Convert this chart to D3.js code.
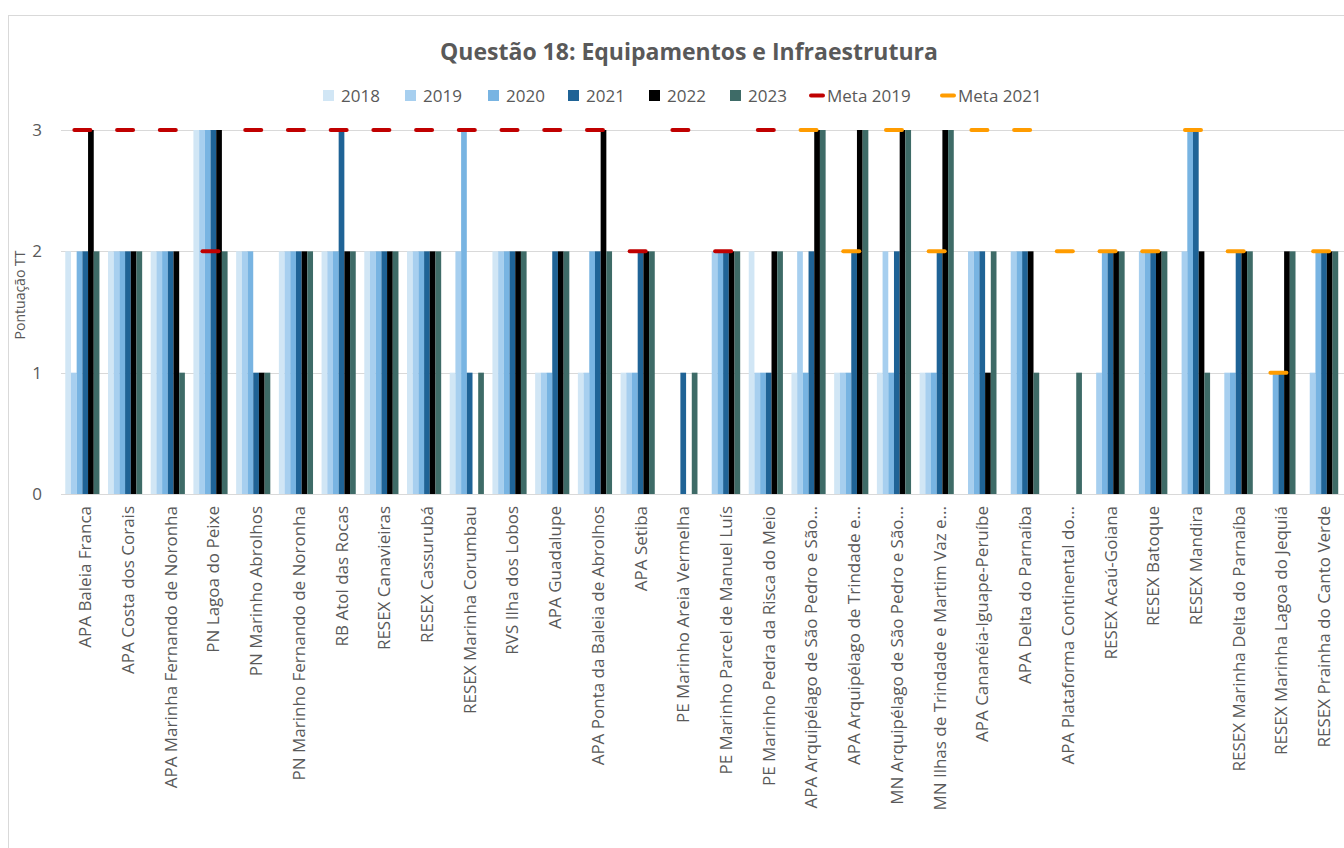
<!DOCTYPE html>
<html><head><meta charset="utf-8">
<script src="https://cdn.jsdelivr.net/npm/d3@7"></script>
<style>
html,body{margin:0;padding:0;background:#fff;}
svg{display:block;font-family:"Open Sans",sans-serif;}
</style></head>
<body>
<svg id="chart" width="1344" height="848"></svg>
<script>
const categories = ["APA Baleia Franca","APA Costa dos Corais","APA Marinha Fernando de Noronha","PN Lagoa do Peixe","PN Marinho Abrolhos","PN Marinho Fernando de Noronha","RB Atol das Rocas","RESEX Canavieiras","RESEX Cassurubá","RESEX Marinha Corumbau","RVS Ilha dos Lobos","APA Guadalupe","APA Ponta da Baleia de Abrolhos","APA Setiba","PE Marinho Areia Vermelha","PE Marinho Parcel de Manuel Luís","PE Marinho Pedra da Risca do Meio","APA Arquipélago de São Pedro e São...","APA Arquipélago de Trindade e...","MN Arquipélago de São Pedro e São...","MN Ilhas de Trindade e Martim Vaz e...","APA Cananéia-Iguape-Peruíbe","APA Delta do Parnaíba","APA Plataforma Continental do...","RESEX Acaú-Goiana","RESEX Batoque","RESEX Mandira","RESEX Marinha Delta do Parnaíba","RESEX Marinha Lagoa do Jequiá","RESEX Prainha do Canto Verde"];
const years = ["2018","2019","2020","2021","2022","2023"];
const v2018 = [2,2,2,3,2,2,2,2,2,1,2,1,1,1,0,0,2,1,1,1,1,0,0,0,0,0,0,0,0,0];
const v2019 = [1,2,2,3,2,2,2,2,2,2,2,1,1,1,0,2,1,2,1,2,1,2,2,0,1,2,2,1,0,1];
const v2020 = [2,2,2,3,2,2,2,2,2,3,2,1,2,1,0,2,1,1,1,1,1,2,2,0,2,2,3,1,1,2];
const v2021 = [2,2,2,3,1,2,3,2,2,1,2,2,2,2,1,2,1,2,2,2,2,2,2,0,2,2,3,2,1,2];
const v2022 = [3,2,2,3,1,2,2,2,2,0,2,2,3,2,0,2,2,3,3,3,3,1,2,0,2,2,2,2,2,2];
const v2023 = [2,2,1,2,1,2,2,2,2,1,2,2,2,2,1,2,2,3,3,3,3,2,1,1,2,2,1,2,2,2];
const meta2019 = [3,3,3,2,3,3,3,3,3,3,3,3,3,2,3,2,3,null,null,null,null,null,null,null,null,null,null,null,null,null];
const meta2021 = [null,null,null,null,null,null,null,null,null,null,null,null,null,null,null,null,null,3,2,3,2,3,3,2,2,2,3,2,1,2];
const yTicks = [0,1,2,3];
const title = "Questão 18: Equipamentos e Infraestrutura";
const yTitle = "Pontuação TT";

const seriesValues = [v2018,v2019,v2020,v2021,v2022,v2023];
const barColors = ["#d1e6f5","#a7cfef","#78b4e2","#1f6396","#000000","#3e6b67"];
const metaColors = ["#c00000","#ff9c00"];

const svg = d3.select("#chart");
const textColor = "#595959";

// chart frame
svg.append("rect").attr("x",8.5).attr("y",15.5).attr("width",1400).attr("height",900)
  .attr("fill","none").attr("stroke","#d9d9d9");

const x0 = d3.scaleBand().domain(categories).range([61,1342.5]).padding(0);
const bw = x0.bandwidth();
const x1 = d3.scaleBand().domain(years).range([bw*0.1, bw*0.9]).padding(0);
const y = d3.scaleLinear().domain([0,3]).range([494,130]);

// gridlines
svg.append("g").selectAll("line").data(yTicks).join("line")
  .attr("x1",61).attr("x2",1344)
  .attr("y1",d=>Math.round(y(d))+0.5).attr("y2",d=>Math.round(y(d))+0.5)
  .attr("stroke","#d9d9d9").attr("stroke-width",1);

// y axis tick labels
const yAxis = d3.axisLeft(y).tickValues(yTicks).tickFormat(d3.format("d")).tickSize(0).tickPadding(0);
const gy = svg.append("g").attr("transform","translate(42,0)").call(yAxis);
gy.select(".domain").remove();
gy.selectAll("text").attr("fill",textColor).style("font-size","17px").style("font-family","Open Sans");

// bars
const gBars = svg.append("g");
years.forEach((yr,si)=>{
  gBars.append("g").selectAll("rect").data(seriesValues[si]).join("rect")
    .attr("x",(d,i)=>x0(categories[i])+x1(yr))
    .attr("width",x1.bandwidth())
    .attr("y",d=>y(d))
    .attr("height",d=>y(0)-y(d))
    .attr("fill",barColors[si]);
});

// meta markers
[meta2019,meta2021].forEach((arr,mi)=>{
  svg.append("g").selectAll("line").data(arr.map((v,i)=>({v,i})).filter(d=>d.v!==null)).join("line")
    .attr("x1",d=>x0(categories[d.i])+bw/2-8)
    .attr("x2",d=>x0(categories[d.i])+bw/2+8)
    .attr("y1",d=>y(d.v)).attr("y2",d=>y(d.v))
    .attr("stroke",metaColors[mi]).attr("stroke-width",4).attr("stroke-linecap","round");
});

// x axis labels
const xAxis = d3.axisBottom(x0).tickSize(0).tickPadding(0);
const gx = svg.append("g").attr("transform","translate(0,494)").call(xAxis);
gx.select(".domain").remove();
gx.selectAll("text")
  .attr("fill",textColor).style("font-size","17px").style("font-family","Open Sans")
  .attr("text-anchor","end").attr("transform","rotate(-90)")
  .attr("x",-12).attr("y",3).attr("dy","0.35em");

// title
svg.append("text").attr("x",689).attr("y",60).attr("text-anchor","middle")
  .attr("fill",textColor).style("font-size","23px").style("font-weight","bold").text(title);

// y title
svg.append("text").attr("transform","translate(25,295) rotate(-90)").attr("text-anchor","middle")
  .attr("fill",textColor).style("font-size","14px").text(yTitle);

// legend
const legendX = [323,405,488,568,649,730];
const lg = svg.append("g");
years.forEach((yr,i)=>{
  lg.append("rect").attr("x",legendX[i]).attr("y",90).attr("width",11).attr("height",11).attr("fill",barColors[i]);
  lg.append("text").attr("x",legendX[i]+18).attr("y",101.5).attr("fill",textColor).style("font-size","17px").text(yr);
});
const metaLegend = [{x:810,label:"Meta 2019"},{x:941,label:"Meta 2021"}];
metaLegend.forEach((m,i)=>{
  lg.append("line").attr("x1",m.x+1).attr("x2",m.x+13).attr("y1",95.5).attr("y2",95.5)
    .attr("stroke",metaColors[i]).attr("stroke-width",4).attr("stroke-linecap","round");
  lg.append("text").attr("x",m.x+17).attr("y",101.5).attr("fill",textColor).style("font-size","17px").text(m.label);
});
</script>
</body></html>
